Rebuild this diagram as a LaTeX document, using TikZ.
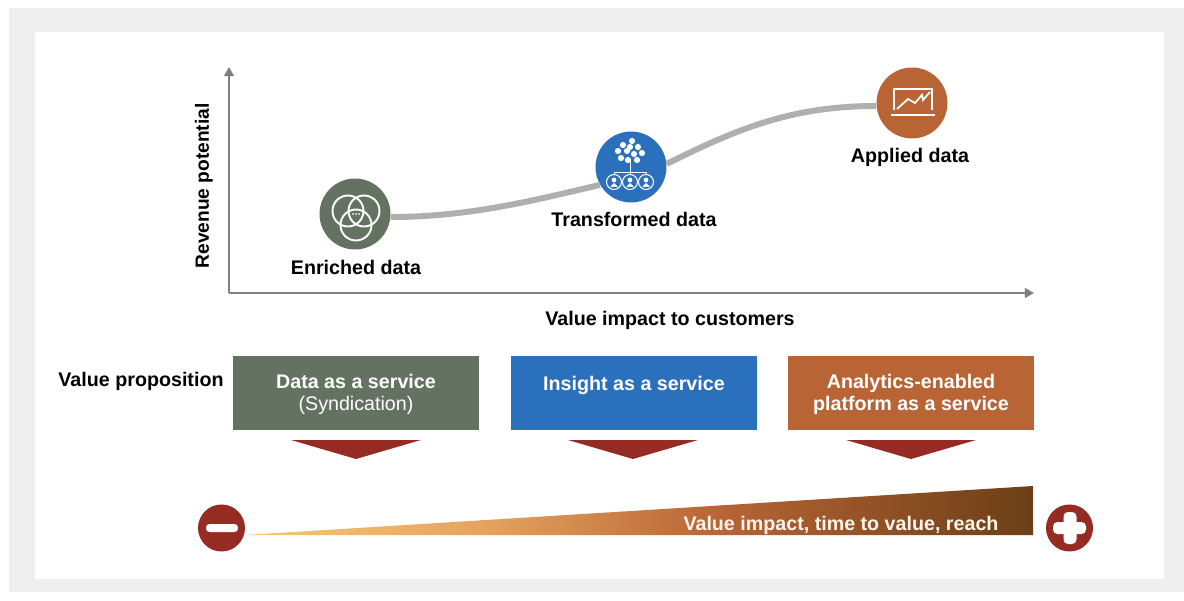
\documentclass[tikz,border=0pt]{standalone}
\usepackage{fontspec}
\setmainfont{Liberation Sans}
\usepackage{tikz}
\usetikzlibrary{arrows.meta}
\definecolor{pagegray}{HTML}{EFEFEF}
\definecolor{axisgray}{HTML}{7F7F7F}
\definecolor{curvegray}{HTML}{AFAFAF}
\definecolor{enrichgreen}{HTML}{647262}
\definecolor{insightblue}{HTML}{2B70BD}
\definecolor{appliedorange}{HTML}{B86435}
\definecolor{darkred}{HTML}{952B22}
\definecolor{wedgelight}{HTML}{F5C875}
\definecolor{wedgemid}{HTML}{E5A45F}
\definecolor{wedgedark}{HTML}{6B3F17}
\tikzset{
  label/.style={font=\bfseries\fontsize{11.2}{13}\selectfont, text=black},
  valuebox/.style={minimum width=4.92cm, minimum height=1.48cm, align=center, text=white, font=\bfseries\fontsize{11.2}{12.4}\selectfont},
  bigdot/.style={circle, minimum size=1.42cm, inner sep=0pt},
  signdot/.style={circle, fill=darkred, minimum size=0.94cm, inner sep=0pt},
  icon/.style={white, line width=0.6pt},
  axisline/.style={axisgray, line width=1pt, -{Triangle[width=5.6pt,length=5.2pt]}}
}
\begin{document}
\begin{tikzpicture}[x=0.02cm,y=-0.02cm]
\useasboundingbox (0,0) rectangle (1184,601);
\fill [pagegray] (9,8) rectangle (1184,592);
\fill [white] (35,32) rectangle (1164,579);
% axes
\coordinate (origin) at (229,293);
\coordinate (ytop) at (229,67);
\coordinate (xend) at (1034,293);
\draw [axisline] (origin) -- (ytop);
\draw [axisline] (origin) -- (xend);
\node [label, rotate=90, font=\bfseries\fontsize{10.9}{13}\selectfont] (ylabel) at (204,186) {Revenue potential};
\node [label] (xlabel) at (670,320) {Value impact to customers};
% curve and stages
\node [bigdot, fill=enrichgreen] (enriched) at (355,214) {};
\node [bigdot, fill=insightblue] (transformed) at (631,167) {};
\node [bigdot, fill=appliedorange] (applied) at (912,103) {};
\draw [curvegray, line width=3.4pt] (enriched.east) ++(0,3) .. controls (470,217) and (535,200) .. (transformed.210);
\draw [curvegray, line width=3.4pt] (transformed.5) .. controls (735,130) and (790,106) .. ([yshift=-0.06cm]applied.west);
\node [label] (enrichedlabel) at (356,267) {Enriched data};
\node [label] (transformedlabel) at (634,219) {Transformed data};
\node [label] (appliedlabel) at (910,157) {Applied data};
% enriched icon
\draw [icon, line width=1.1pt] (348,211) circle (15.5);
\draw [icon, line width=1.1pt] (364,211) circle (15.5);
\draw [icon, line width=1.1pt] (356,225) circle (15.5);
\foreach \dx in {-3,0,3} {
  \fill [white] (356+\dx,214) circle (1);
}
% transformed icon
\foreach \cx/\cy in {623/145, 632/141, 638/147, 618/151, 627/151, 634/154, 642/153, 621/158, 628/160, 637/160, 630/147} {
  \fill [white] (\cx,\cy) circle (3.1);
}
\draw [icon, line width=0.4pt] (630,160) -- (630,175);
\draw [icon, line width=0.4pt] (614,175) -- (614,172) -- (646,172) -- (646,175);
\foreach \cx in {614,630,646} {
  \draw [icon, line width=0.6pt] (\cx,182) circle (7.5);
  \fill [white] (\cx,180) circle (2.4);
  \fill [white] (\cx-4,187) -- (\cx+4,187) -- (\cx,183) -- cycle;
}
% applied icon
\draw [icon, line width=0.7pt] (894,110) -- (894,89) -- (932,89) -- (932,110);
\draw [icon, line width=1.1pt] (891,115) -- (935,115);
\draw [icon, line width=1pt] (897,109) -- (908,99) -- (915,103) -- (922,95) -- (923,100) -- (930,92);
% value proposition
\node [label] (propositionlabel) at (141,381) {Value proposition};
\node [valuebox, fill=enrichgreen] (dataservice) at (356,393) {\rule{0pt}{10pt}Data as a service\\{\mdseries (Syndication)}};
\node [valuebox, fill=insightblue] (insightservice) at (634,393) {\rule{0pt}{10pt}Insight as a service\\\phantom{x}};
\node [valuebox, fill=appliedorange] (platformservice) at (911,393) {\rule{0pt}{10pt}Analytics-enabled\\platform as a service};
% arrows under the boxes
\foreach \mx in {356,633,911} {
  \fill [darkred] (\mx-65,440) -- (\mx+65,440) -- (\mx,459) -- cycle;
}
% wedge
\begin{scope}
\clip (245,535) -- (1033,486) -- (1033,535) -- cycle;
\shade [left color=wedgelight, right color=wedgemid] (245,480) rectangle (481,540);
\shade [left color=wedgemid, right color=appliedorange] (480,480) rectangle (721,540);
\shade [left color=appliedorange, right color=wedgedark] (720,480) rectangle (1034,540);
\end{scope}
\node [signdot] (minus) at (221.5,528) {};
\node [signdot] (plus) at (1069.5,528) {};
\fill [white, rounded corners=2pt] (206,524) rectangle (238,532);
\fill [white, rounded corners=2.5pt] (1063.5,512) rectangle (1076.5,544);
\fill [white, rounded corners=2.5pt] (1053,522) rectangle (1086,534);
\node [label, text=white!92!orange] (reachlabel) at (841,525) {Value impact, time to value, reach};
\end{tikzpicture}
\end{document}
